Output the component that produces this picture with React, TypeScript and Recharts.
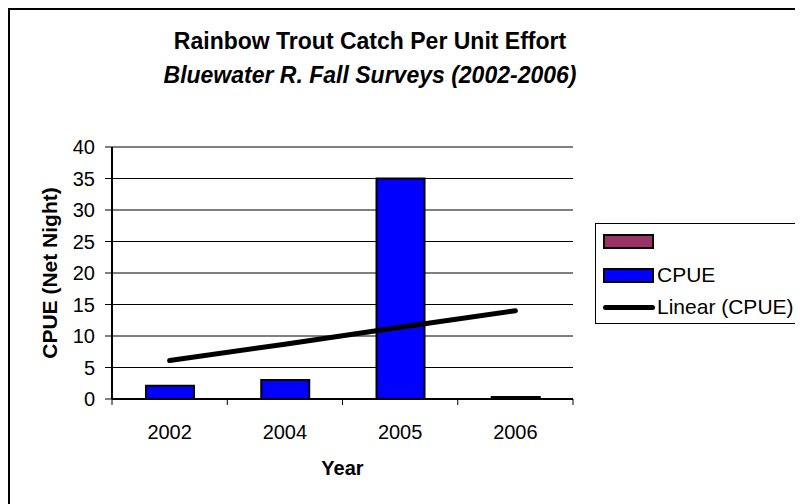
import React from 'react';
import { ComposedChart, Bar, Line, XAxis, YAxis, CartesianGrid } from 'recharts';

// values
const years = ['2002', '2004', '2005', '2006'];
const cpue = [2.1, 3.0, 35.0, 0.3];
const trendCpue = [6.1, 8.7, 11.4, 14.0];
const yTicks = [0, 5, 10, 15, 20, 25, 30, 35, 40];

const data = years.map((year, i) => ({ year, cpue: cpue[i], trend: trendCpue[i] }));

const FONT = '"Liberation Sans", Arial, sans-serif';
const W = 795;
const H = 496;
const PLOT_LEFT = 104;
const PLOT_RIGHT = 565;
const PLOT_TOP = 139;
const PLOT_BOTTOM = 391;
const Y_AXIS_W = 60;
const X_AXIS_H = 30;
const X_TICK_MARGIN = 26;
const BAND = (PLOT_RIGHT - PLOT_LEFT) / years.length;

// category label plus Excel-style tick marks on the category boundaries
function YearTick(props: any) {
  const { x, y, payload, index } = props;
  const axisY = y - X_TICK_MARGIN;
  const left = x - BAND / 2;
  const right = x + BAND / 2;
  return (
    <g>
      <line x1={left} y1={axisY} x2={left} y2={axisY + 6} stroke="#000" strokeWidth={1} />
      {index === years.length - 1 && (
        <line x1={right} y1={axisY} x2={right} y2={axisY + 6} stroke="#000" strokeWidth={1} />
      )}
      <text x={x} y={y} dy="0.71em" textAnchor="middle" fontSize={20} fontFamily={FONT} fill="#000">
        {payload.value}
      </text>
    </g>
  );
}

function YearLabel(props: any) {
  const vb = props.viewBox;
  return (
    <text x={vb.x + vb.width / 2} y={vb.y + 76} textAnchor="middle" fontSize={20} fontWeight="bold" fontFamily={FONT} fill="#000">
      Year
    </text>
  );
}

function CpueLabel(props: any) {
  const vb = props.viewBox;
  const cx = 49;
  const cy = vb.y + vb.height / 2;
  return (
    <text
      x={cx}
      y={cy}
      transform={`rotate(-90, ${cx}, ${cy})`}
      textAnchor="middle"
      fontSize={21}
      fontWeight="bold"
      fontFamily={FONT}
      fill="#000"
    >
      CPUE (Net Night)
    </text>
  );
}

function LegendBox() {
  const row = (top: number): React.CSSProperties => ({
    position: 'absolute',
    left: 7,
    top: top - 12,
    height: 24,
    display: 'flex',
    alignItems: 'center',
    fontSize: 21,
    fontFamily: FONT,
    color: '#000',
  });
  const swatch = (color: string): React.CSSProperties => ({
    width: 47,
    height: 11,
    background: color,
    border: '2px solid #000',
    marginRight: 3,
  });
  return (
    <div
      style={{
        position: 'absolute',
        left: 587,
        top: 215,
        width: 202,
        height: 101,
        border: '1px solid #000',
        boxSizing: 'border-box',
        background: '#fff',
      }}
    >
      <div style={row(17)}>
        <div style={swatch('#993366')} />
      </div>
      <div style={row(51)}>
        <div style={swatch('#0000FF')} />
        <span>CPUE</span>
      </div>
      <div style={row(83)}>
        <div style={{ width: 52, height: 5, background: '#000', borderRadius: 2.5, marginRight: 2 }} />
        <span>Linear (CPUE)</span>
      </div>
    </div>
  );
}

export default function App() {
  return (
    <div style={{ position: 'relative', width: W, height: H, background: '#fff', overflow: 'hidden' }}>
      <ComposedChart
        width={W}
        height={H}
        data={data}
        margin={{
          top: PLOT_TOP,
          right: W - PLOT_RIGHT,
          bottom: H - PLOT_BOTTOM - X_AXIS_H,
          left: PLOT_LEFT - Y_AXIS_W,
        }}
      >
        <CartesianGrid vertical={false} stroke="#000" strokeWidth={1} />
        <XAxis
          dataKey="year"
          height={X_AXIS_H}
          axisLine={{ stroke: '#000', strokeWidth: 2 }}
          tickLine={false}
          tickSize={0}
          tickMargin={X_TICK_MARGIN}
          tick={<YearTick />}
          interval={0}
          label={<YearLabel />}
        />
        <XAxis xAxisId="top" dataKey="year" orientation="top" height={0} tick={false} tickLine={false} axisLine={{ stroke: '#8c8c8c', strokeWidth: 2 }} />
        <YAxis
          domain={[0, 40]}
          ticks={yTicks}
          width={Y_AXIS_W}
          axisLine={{ stroke: '#000', strokeWidth: 2 }}
          tickLine={{ stroke: '#000' }}
          tickSize={7}
          tickMargin={10}
          tick={{ fontSize: 20, fill: '#000', fontFamily: FONT }}
          label={<CpueLabel />}
        />
        <YAxis yAxisId="right" orientation="right" domain={[0, 40]} width={0} tick={false} tickLine={false} axisLine={{ stroke: '#8c8c8c', strokeWidth: 2 }} />
        <Bar dataKey="cpue" fill="#0000FF" stroke="#000" strokeWidth={2} barSize={48} isAnimationActive={false} />
        <Line
          dataKey="trend"
          stroke="#000"
          strokeWidth={5}
          strokeLinecap="round"
          dot={false}
          activeDot={false}
          isAnimationActive={false}
        />
      </ComposedChart>
      <svg width={W} height={H} style={{ position: 'absolute', left: 0, top: 0, pointerEvents: 'none' }}>
        <text x={362} y={41} textAnchor="middle" fontSize={23} fontWeight="bold" fontFamily={FONT} fill="#000">
          Rainbow Trout Catch Per Unit Effort
        </text>
        <text x={362} y={75} textAnchor="middle" fontSize={23} fontWeight="bold" fontStyle="italic" fontFamily={FONT} fill="#000">
          Bluewater R. Fall Surveys (2002-2006)
        </text>
      </svg>
      <LegendBox />
      <div
        style={{
          position: 'absolute',
          left: 0,
          top: 0,
          width: W,
          height: H,
          borderTop: '2px solid #000',
          borderLeft: '2px solid #000',
          boxSizing: 'border-box',
          pointerEvents: 'none',
        }}
      />
    </div>
  );
}
